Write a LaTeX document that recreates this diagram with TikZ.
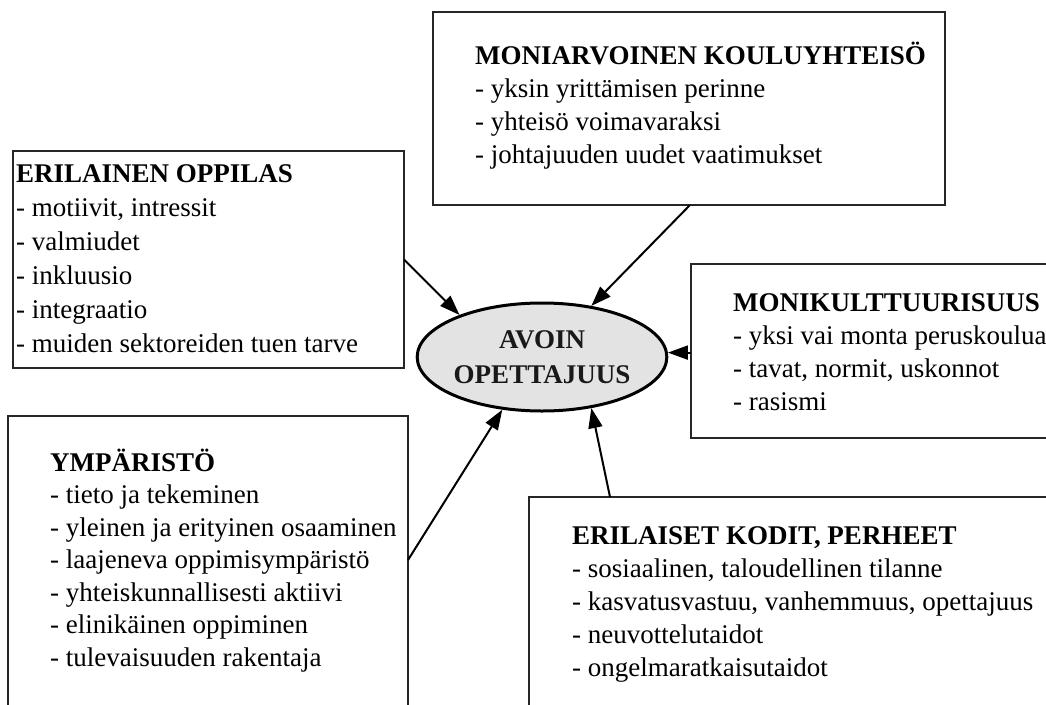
\documentclass[tikz,border=0pt]{standalone}
\usepackage{fontspec}
\setmainfont{Liberation Serif}
\usetikzlibrary{arrows.meta,shapes.geometric}
\newcommand{\toprow}{\rule{0pt}{24pt}}
\tikzset{
  panel/.style={rectangle, draw=black!85, line width=1.3pt, fill=white,
    anchor=north west, inner sep=0pt, outer sep=0pt},
  txt/.style={align=left, anchor=north west, inner sep=0pt, text=black,
    font=\fontsize{27}{33}\selectfont},
  hub/.style={ellipse, draw=black, line width=3pt, fill=black!11,
    minimum width=227pt, minimum height=108pt, inner sep=0pt, align=center,
    text=black!90, font=\fontsize{27}{35}\selectfont\bfseries},
  arr/.style={line width=2pt, -{Triangle[length=20pt,width=14pt]}},
}
\begin{document}
\begin{tikzpicture}[x=1pt,y=-1pt]
\useasboundingbox (0,0) rectangle (1046,704);
\clip (0,0) rectangle (1046,704);

% panels
\node[panel, minimum width=512pt, minimum height=193pt] (tbox) at (433,12) {};
\node[panel, minimum width=391pt, minimum height=217pt] (lbox) at (13,151) {};
\node[panel, minimum width=380pt, minimum height=174pt] (rbox) at (691,264) {};
\node[panel, minimum width=400pt, minimum height=310pt] (ybox) at (8,416) {};
\node[panel, minimum width=540pt, minimum height=230pt] (kbox) at (529,497) {};

% panel contents (first baseline sits 24pt below the node top)
\node[txt] (ttxt) at (475,40) {\toprow\textbf{MONIARVOINEN KOULUYHTEISÖ}\\
  - yksin yrittämisen perinne\\
  - yhteisö voimavaraksi\\
  - johtajuuden uudet vaatimukset};
\node[txt, font=\fontsize{27}{34}\selectfont] (ltxt) at (16,158) {\toprow\textbf{ERILAINEN OPPILAS}\\
  - motiivit, intressit\\
  - valmiudet\\
  - inkluusio\\
  - integraatio\\
  - muiden sektoreiden tuen tarve};
\node[txt] (rtxt) at (733,287) {\toprow\textbf{MONIKULTTUURISUUS}\\
  - yksi vai monta peruskoulua\\
  - tavat, normit, uskonnot\\
  - rasismi};
\node[txt, font=\fontsize{27}{32.5}\selectfont] (ytxt) at (50,447) {\toprow\textbf{YMPÄRISTÖ}\\
  - tieto ja tekeminen\\
  - yleinen ja erityinen osaaminen\\
  - laajeneva oppimisympäristö\\
  - yhteiskunnallisesti aktiivi\\
  - elinikäinen oppiminen\\
  - tulevaisuuden rakentaja};
\node[txt] (ktxt) at (572,520) {\toprow\textbf{ERILAISET KODIT, PERHEET}\\
  - sosiaalinen, taloudellinen tilanne\\
  - kasvatusvastuu, vanhemmuus, opettajuus\\
  - neuvottelutaidot\\
  - ongelmaratkaisutaidot};

% centre
\node[hub] (hub) at (542,357) {AVOIN\\OPETTAJUUS};

% connectors
\draw[arr] (lbox.east) -- (hub.153);
\draw[arr] ([xshift=257pt]tbox.south west) -- (hub.46);
\draw[arr] (hub.2 -| rbox.west) -- (hub.2);
\draw[arr] ([yshift=-144pt]ybox.north east) -- (hub.-127);
\draw[arr] ([xshift=81pt]kbox.north west) -- (hub.-46);
\end{tikzpicture}
\end{document}
